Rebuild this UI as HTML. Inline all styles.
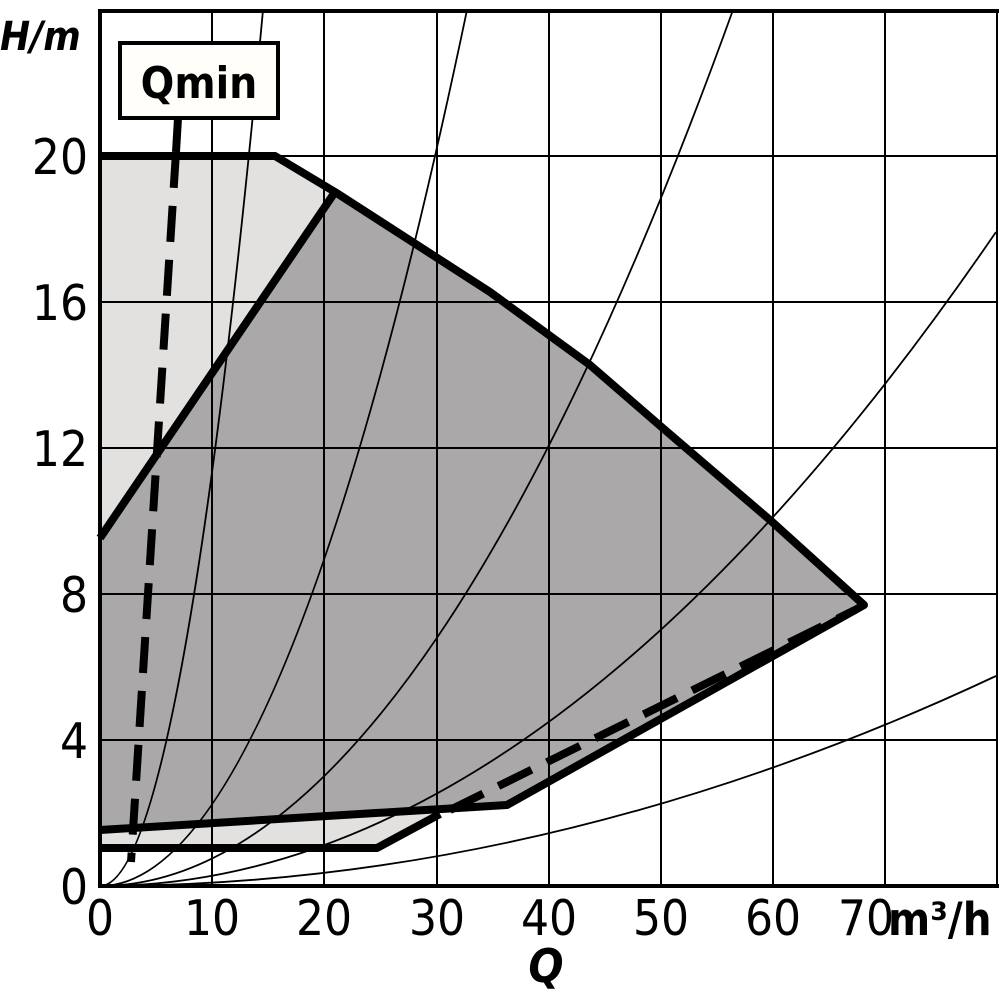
<!DOCTYPE html>
<html><head><meta charset="utf-8"><style>
html,body{margin:0;padding:0;background:#fff;}
svg{display:block;}
text{font-family:"DejaVu Sans Condensed","DejaVu Sans",sans-serif;font-stretch:condensed;fill:#000;}
</style></head><body>
<svg width="1000" height="1000" viewBox="0 0 1000 1000" xmlns="http://www.w3.org/2000/svg">
<rect width="1000" height="1000" fill="#fff"/>
<polygon points="100,156 275,156 335,192 100,538" fill="#e2e1e0"/>
<polygon points="100,830 440,813 377,848 100,848" fill="#e2e1e0"/>
<polygon points="100,538 335,192 490,292 590,365 665,430 770,520 862,605 507,805 100,830" fill="#aaa8a8"/>
<g stroke="#000" stroke-width="2" fill="none">
<line x1="212" y1="10" x2="212" y2="886"/>
<line x1="324" y1="10" x2="324" y2="886"/>
<line x1="437" y1="10" x2="437" y2="886"/>
<line x1="549" y1="10" x2="549" y2="886"/>
<line x1="661" y1="10" x2="661" y2="886"/>
<line x1="773" y1="10" x2="773" y2="886"/>
<line x1="885" y1="10" x2="885" y2="886"/>
<line x1="997" y1="10" x2="997" y2="886"/>
<line x1="100" y1="740" x2="997" y2="740"/>
<line x1="100" y1="594" x2="997" y2="594"/>
<line x1="100" y1="448" x2="997" y2="448"/>
<line x1="100" y1="302" x2="997" y2="302"/>
<line x1="100" y1="156" x2="997" y2="156"/>
</g>
<g stroke="#000" stroke-width="1.8" fill="none">
<path d="M100,886 Q181.5,886 263,10"/>
<path d="M100,886 Q283.5,886 467,10"/>
<path d="M100,886 Q416.5,886 733,10"/>
<path d="M100,886 Q548,886 996,232"/>
<path d="M100,886 Q548,886 996,676"/>
</g>
<g stroke="#000" stroke-width="8" fill="none" stroke-linejoin="round">
<polyline points="100,156 275,156 335,192 490,292 590,365 665,430 770,520 864,605 507,805 100,830"/>
<line x1="100" y1="538" x2="335" y2="192"/>
<polyline points="100,848 377,848 440,814"/>
</g>
<g stroke="#000" stroke-width="8" fill="none">
<line x1="450" y1="810" x2="855" y2="610" stroke-dasharray="37 17"/>
<line x1="176" y1="152" x2="131" y2="862" stroke-dasharray="36 18"/>
<line x1="178" y1="118" x2="176" y2="152"/>
</g>
<line x1="100" y1="10" x2="100" y2="888" stroke="#000" stroke-width="4"/>
<line x1="98" y1="886" x2="999" y2="886" stroke="#000" stroke-width="4"/>
<line x1="98" y1="11" x2="999" y2="11" stroke="#000" stroke-width="4"/>
<rect x="120" y="43" width="158" height="75" fill="#fffef8" stroke="#000" stroke-width="4"/>
<text x="199" y="98" text-anchor="middle" font-size="44" font-weight="bold" style="font-stretch:normal">Qmin</text>
<g font-size="49" text-anchor="end">
<text x="88" y="174">20</text>
<text x="88" y="320">16</text>
<text x="88" y="466">12</text>
<text x="88" y="612">8</text>
<text x="88" y="758">4</text>
<text x="88" y="904">0</text>
</g>
<text x="0" y="50" font-size="40" font-weight="bold" font-style="italic">H/m</text>
<g font-size="49" text-anchor="middle">
<text x="100" y="935">0</text>
<text x="212" y="935">10</text>
<text x="324" y="935">20</text>
<text x="437" y="935">30</text>
<text x="549" y="935">40</text>
<text x="661" y="935">50</text>
<text x="773" y="935">60</text>
<text x="866" y="935">70</text>
</g>
<text x="888" y="935" font-size="45" font-weight="bold">m³/h</text>
<text x="546" y="982" font-size="46" font-weight="bold" font-style="italic" text-anchor="middle">Q</text>
</svg>
</body></html>
